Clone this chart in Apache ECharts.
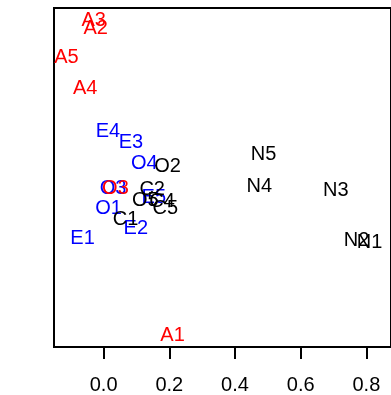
<!DOCTYPE html>
<html>
<head>
<meta charset="utf-8">
<script src="https://cdn.jsdelivr.net/npm/echarts@6/dist/echarts.min.js"></script>
<style>
html,body{margin:0;padding:0;background:#fff;}
#chart{width:391px;height:395px;}
</style>
</head>
<body>
<div id="chart"></div>
<script>
// Tick labels on the x axis
var xTicks = [0.0, 0.2, 0.4, 0.6, 0.8];

// Blue group
var blueNames = ['E1','E2','E3','E4','E5','O1','O3','O4'];
var blueX = [-0.064, 0.098, 0.083, 0.013, 0.153, 0.015, 0.029, 0.124];
var blueY = [-0.181, -0.149, 0.103, 0.137, -0.059, -0.092, -0.032, 0.040];

// Red group
var redNames = ['A1','A2','A3','A4','A5','O3'];
var redX = [0.210, -0.024, -0.030, -0.056, -0.113, 0.036];
var redY = [-0.466, 0.441, 0.463, 0.264, 0.353, -0.032];

// Black group
var blackNames = ['C1','C2','C4','C5','N1','N2','N3','N4','N5','O2','O5'];
var blackX = [0.067, 0.148, 0.178, 0.188, 0.810, 0.770, 0.707, 0.474, 0.487, 0.195, 0.127];
var blackY = [-0.125, -0.035, -0.071, -0.090, -0.193, -0.187, -0.039, -0.027, 0.069, 0.032, -0.069];

function build(names, xs, ys) {
  return names.map(function (n, i) { return { name: n, value: [xs[i], ys[i]] }; });
}

function textSeries(names, xs, ys, color) {
  return {
    type: 'scatter',
    data: build(names, xs, ys),
    symbolSize: 1,
    itemStyle: { color: 'rgba(0,0,0,0)', opacity: 1 },
    clip: false,
    silent: true,
    label: {
      show: true,
      position: 'inside',
      formatter: function (p) { return p.name; },
      color: color,
      fontSize: 20,
      fontFamily: '"Liberation Sans", Arial, sans-serif',
      align: 'center',
      verticalAlign: 'middle'
    },
    labelLayout: { hideOverlap: false }
  };
}

var chart = echarts.init(document.getElementById('chart'), null, { renderer: 'canvas' });
chart.setOption({
  animation: false,
  backgroundColor: '#ffffff',
  grid: {
    left: 54, top: 8, width: 346, height: 339,
    show: true, borderColor: '#000', borderWidth: 2, backgroundColor: 'transparent'
  },
  xAxis: {
    type: 'value',
    min: -0.151, max: 0.875,
    axisLine: { show: false, onZero: false },
    splitLine: { show: false },
    axisTick: {
      show: true, inside: false, length: 12,
      customValues: xTicks,
      lineStyle: { color: '#000', width: 2 }
    },
    axisLabel: {
      show: true,
      customValues: xTicks,
      margin: 28,
      fontSize: 20,
      color: '#000',
      fontFamily: '"Liberation Sans", Arial, sans-serif',
      formatter: function (v) { return v.toFixed(1); }
    }
  },
  yAxis: {
    type: 'value',
    min: -0.5, max: 0.5,
    show: false,
    splitLine: { show: false }
  },
  series: [
    textSeries(blueNames, blueX, blueY, '#0000FF'),
    textSeries(redNames, redX, redY, '#FF0000'),
    textSeries(blackNames, blackX, blackY, '#000000')
  ]
});
</script>
</body>
</html>
